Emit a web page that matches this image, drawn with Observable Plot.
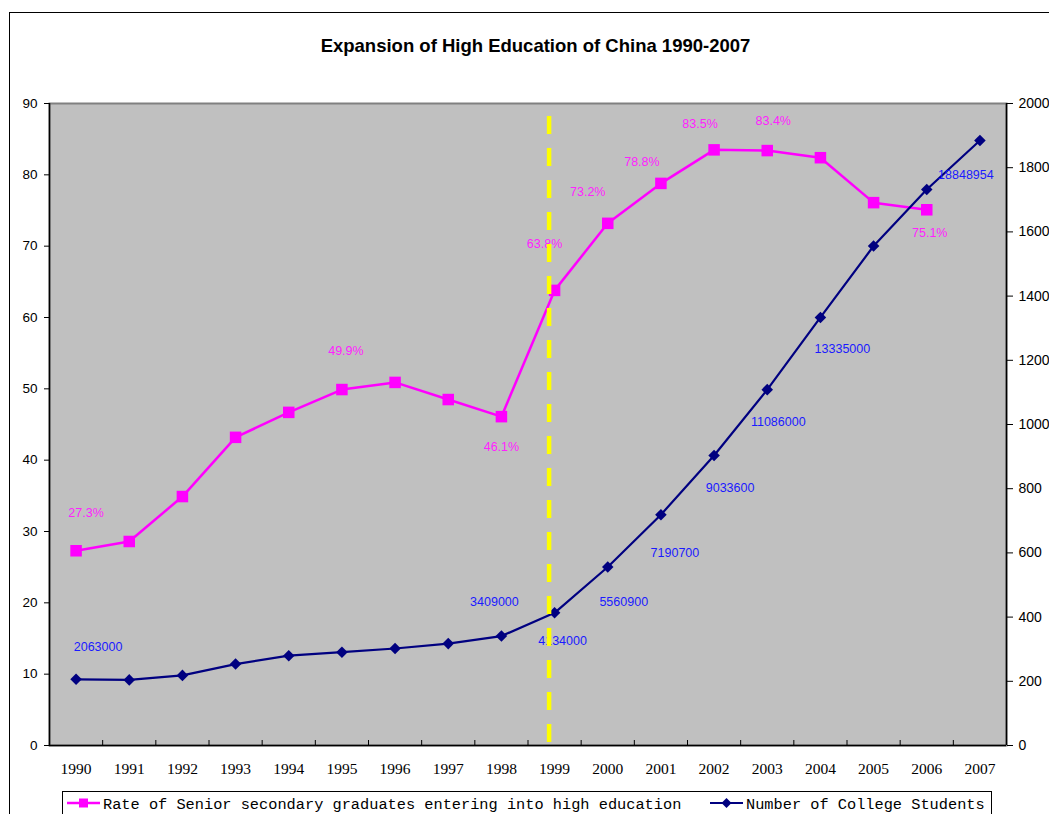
<!DOCTYPE html>
<html><head><meta charset="utf-8">
<script src="https://cdn.jsdelivr.net/npm/d3@7"></script>
<script src="https://cdn.jsdelivr.net/npm/@observablehq/plot@0.6"></script>
<style>
html,body{margin:0;padding:0;background:#fff;overflow:hidden;width:1049px;height:814px}
#wrap{position:relative;width:1049px;height:814px;overflow:hidden;background:#fff}
#border{position:absolute;left:9px;top:12px;width:1200px;height:900px;border-left:1px solid #000;border-top:1px solid #000}
#title{position:absolute;left:0;width:1071px;top:35px;text-align:center;font:bold 18.5px "Liberation Sans",Arial,sans-serif;color:#000}
#chart{position:absolute;left:0;top:0}
#legend{position:absolute;left:62px;top:791px;width:928px;height:40px;border:1px solid #000;background:#fff}
#legend svg{position:absolute;left:0;top:0}
</style></head><body>
<div id="wrap">
<div id="border"></div>
<div id="chart"></div>
<div id="title">Expansion of High Education of China 1990-2007</div>
<div id="legend"></div>
</div>
<script>
// ---- data ----
const years = [1990,1991,1992,1993,1994,1995,1996,1997,1998,1999,2000,2001,2002,2003,2004,2005,2006,2007];
// Rate of senior secondary graduates entering into high education (%), 1990-2006
const rateValues = [27.3,28.6,34.9,43.2,46.7,49.9,50.9,48.5,46.1,63.8,73.2,78.8,83.5,83.4,82.4,76.1,75.1];
// Number of college students (persons), 1990-2007
const studentValues = [2063000,2044000,2184000,2536000,2799000,2906000,3021000,3174000,3409000,4134000,5560900,7190700,9033600,11086000,13335000,15560000,17320000,18848954];
const leftTicks = [0,10,20,30,40,50,60,70,80,90];
const rightTicks = [0,200,400,600,800,1000,1200,1400,1600,1800,2000]; // in 10,000 persons
const rateLabelYears = [1990,1995,1998,1999,2000,2001,2002,2003,2006];
const studentLabelYears = [1990,1998,1999,2000,2001,2002,2003,2004,2007];
const markerYear = 1999;

// ---- label placement (offsets in px from the point) ----
const rateLabelOffset = {1990:[10,-38],1995:[4,-39],1998:[0,30],1999:[-10,-46],2000:[-20,-31],2001:[-19,-21],2002:[-14,-26],2003:[6,-30],2006:[3,23]};
const studentLabelOffset = {1990:[22,-32],1998:[-7,-34],1999:[8,28],2000:[16,35],2001:[14,38],2002:[16,32],2003:[11,32],2004:[22,32],2007:[-14,35]};

const rate = rateValues.map((v,i)=>({year: years[i], v}));
const students = studentValues.map((v,i)=>({year: years[i], v}));
const leftMax = leftTicks[leftTicks.length-1];
const rightMax = rightTicks[rightTicks.length-1]*10000;
const k = leftMax / rightMax; // persons -> left-axis units

const W = 1049, H = 814, mT = 103, mB = 69, mL = 49, mR = 43;
const xDomain = [years[0]-0.5, years[years.length-1]+0.5];
const boundaries = years.slice(1).map(y => y-0.5);

const font = "'Liberation Sans', Arial, sans-serif";
const marks = [
  Plot.frame({fill:"#c0c0c0", stroke:"#808080", strokeWidth:2}),
  Plot.ruleX(xDomain, {stroke:"#000", strokeWidth:1.5}),
  Plot.ruleY([0], {stroke:"#000", strokeWidth:1.5}),
  Plot.ruleX(boundaries, {stroke:"#000", strokeWidth:1, insetTop: H-mT-mB-5}),
  Plot.axisY({anchor:"left", ticks:leftTicks, tickSize:5, tickPadding:7, label:null, fontSize:13.5, fontFamily:font, tickFormat:d=>String(d)}),
  Plot.axisY({anchor:"right", ticks:rightTicks.map(t=>t*10000*k), tickSize:6, tickPadding:6, label:null, fontSize:14, fontFamily:font, textAnchor:"start", tickFormat:d=>String(Math.round(d/(10000*k)))}),
  Plot.axisX({ticks:years, tickSize:0, tickPadding:17, label:null, fontSize:15.5, fontFamily:"'Liberation Serif', 'Times New Roman', serif", tickFormat:d=>String(d)}),
  Plot.line(rate, {x:"year", y:"v", stroke:"#ff00ff", strokeWidth:2.5}),
  Plot.dot(rate, {x:"year", y:"v", symbol:"square", r:6.5, fill:"#ff00ff", stroke:null}),
  Plot.line(students, {x:"year", y:d=>d.v*k, stroke:"#000080", strokeWidth:2.2}),
  Plot.dot(students, {x:"year", y:d=>d.v*k, symbol:"diamond2", r:5.2, fill:"#000080", stroke:null}),
  ...rate.filter(d=>rateLabelYears.includes(d.year)).map(d=>Plot.text([d], {x:"year", y:"v", text:d=>d.v.toFixed(1)+"%", dx:rateLabelOffset[d.year][0], dy:rateLabelOffset[d.year][1], fill:"#ff22ff", fontSize:12.5, fontFamily:font})),
  ...students.filter(d=>studentLabelYears.includes(d.year)).map(d=>Plot.text([d], {x:"year", y:d=>d.v*k, text:d=>String(d.v), dx:studentLabelOffset[d.year][0], dy:studentLabelOffset[d.year][1], fill:"#1a1aff", fontSize:12.5, fontFamily:font})),
  Plot.ruleX([markerYear], {dx:-5.5, stroke:"#ffff00", strokeWidth:4.5, strokeDasharray:"18,14", strokeDashoffset:19})
];

const chart = Plot.plot({
  width:W, height:H, marginTop:mT, marginBottom:mB, marginLeft:mL, marginRight:mR,
  x:{type:"linear", domain:xDomain},
  y:{domain:[0,leftMax]},
  style:{fontFamily:font, fontSize:"13.5px", background:"transparent", color:"#000"},
  marks
});
document.getElementById("chart").appendChild(chart);

// ---- legend ----
const legendItems = [
  {label:"Rate of Senior secondary graduates entering into high education", color:"#ff00ff", symbol:"square", x:4},
  {label:"Number of College Students", color:"#000080", symbol:"diamond", x:647}
];
const ns = "http://www.w3.org/2000/svg";
const lsvg = document.createElementNS(ns,"svg");
lsvg.setAttribute("width","928"); lsvg.setAttribute("height","40");
for (const it of legendItems) {
  const ln = document.createElementNS(ns,"line");
  ln.setAttribute("x1",it.x); ln.setAttribute("x2",it.x+33); ln.setAttribute("y1",11); ln.setAttribute("y2",11);
  ln.setAttribute("stroke",it.color); ln.setAttribute("stroke-width",it.symbol==="square"?2.5:2.2);
  lsvg.appendChild(ln);
  const s = document.createElementNS(ns,"path");
  const cx = it.x+16.5, cy = 11;
  if (it.symbol==="square") s.setAttribute("d",`M${cx-4.5},${cy-4.5}h9v9h-9z`);
  else s.setAttribute("d",`M${cx},${cy-5}L${cx+5},${cy}L${cx},${cy+5}L${cx-5},${cy}z`);
  s.setAttribute("fill",it.color);
  lsvg.appendChild(s);
  const t = document.createElementNS(ns,"text");
  t.setAttribute("x",it.x+36); t.setAttribute("y",16.5);
  t.setAttribute("font-family","'Liberation Mono', 'DejaVu Sans Mono', monospace");
  t.setAttribute("font-size","15.3");
  t.setAttribute("fill","#000");
  t.textContent = it.label;
  lsvg.appendChild(t);
}
document.getElementById("legend").appendChild(lsvg);
</script>
</body></html>
